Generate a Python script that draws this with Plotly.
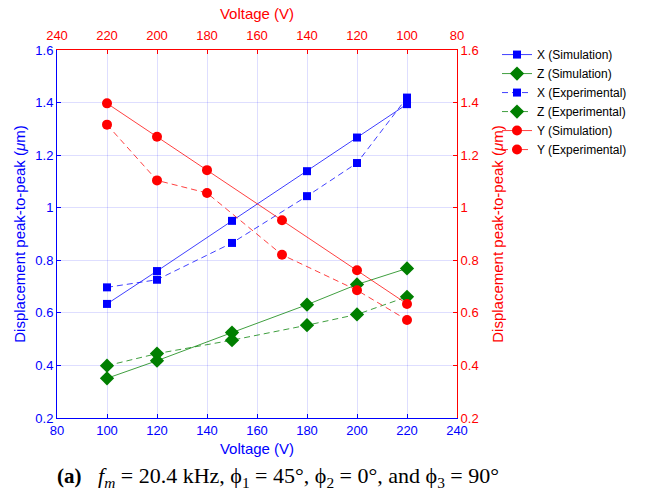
import plotly.graph_objects as go

# Data
volt_xz = [100, 120, 150, 180, 200, 220]
x_sim = [0.634, 0.759, 0.950, 1.139, 1.267, 1.394]
x_exp = [0.697, 0.726, 0.866, 1.044, 1.170, 1.419]
z_sim = [0.351, 0.418, 0.525, 0.631, 0.708, 0.769]
z_exp = [0.399, 0.445, 0.496, 0.553, 0.594, 0.661]
volt_y = [220, 200, 180, 150, 120, 100]
y_sim = [1.397, 1.270, 1.143, 0.952, 0.762, 0.634]
y_exp = [1.316, 1.104, 1.056, 0.821, 0.686, 0.573]

x_ticks = [80, 100, 120, 140, 160, 180, 200, 220, 240]
y_ticks = [0.2, 0.4, 0.6, 0.8, 1.0, 1.2, 1.4, 1.6]
y_ticktext = ["0.2", "0.4", "0.6", "0.8", "1", "1.2", "1.4", "1.6"]

BLUE = "#0000ff"
GREEN = "#007f00"
RED = "#ff0000"
BLUE_L = "rgba(0,0,255,0.75)"
GREEN_L = "rgba(0,127,0,0.75)"
RED_L = "rgba(255,0,0,0.75)"
DASH = "6px,4px"

fig = go.Figure()
fig.add_trace(go.Scatter(x=volt_xz, y=x_sim, name="X (Simulation)", mode="lines+markers",
                         line=dict(color=BLUE_L, width=1), marker=dict(symbol="square", size=8, color=BLUE),
                         xaxis="x", yaxis="y"))
fig.add_trace(go.Scatter(x=volt_xz, y=z_sim, name="Z (Simulation)", mode="lines+markers",
                         line=dict(color=GREEN_L, width=1), marker=dict(symbol="diamond", size=11, color=GREEN),
                         xaxis="x", yaxis="y"))
fig.add_trace(go.Scatter(x=volt_xz, y=x_exp, name="X (Experimental)", mode="lines+markers",
                         line=dict(color=BLUE_L, width=1, dash=DASH), marker=dict(symbol="square", size=8, color=BLUE),
                         xaxis="x", yaxis="y"))
fig.add_trace(go.Scatter(x=volt_xz, y=z_exp, name="Z (Experimental)", mode="lines+markers",
                         line=dict(color=GREEN_L, width=1, dash=DASH), marker=dict(symbol="diamond", size=11, color=GREEN),
                         xaxis="x", yaxis="y"))
fig.add_trace(go.Scatter(x=volt_y, y=y_sim, name="Y (Simulation)", mode="lines+markers",
                         line=dict(color=RED_L, width=1), marker=dict(symbol="circle", size=10, color=RED),
                         xaxis="x2", yaxis="y2"))
fig.add_trace(go.Scatter(x=volt_y, y=y_exp, name="Y (Experimental)", mode="lines+markers",
                         line=dict(color=RED_L, width=1, dash=DASH), marker=dict(symbol="circle", size=10, color=RED),
                         xaxis="x2", yaxis="y2"))

FONT = "Arial, Liberation Sans"
tickfont_b = dict(family=FONT, size=13, color=BLUE)
tickfont_r = dict(family=FONT, size=13, color=RED)
grid = "rgba(0,0,255,0.13)"

fig.update_layout(
    width=646, height=501,
    margin=dict(l=57, r=189, t=50, b=83),
    paper_bgcolor="white", plot_bgcolor="white",
    font=dict(family=FONT, size=13),
    xaxis=dict(range=[80, 240], tickvals=x_ticks, ticks="inside", ticklen=4, tickcolor=BLUE,
               showline=True, linecolor=BLUE, linewidth=1, showgrid=True, gridcolor=grid, gridwidth=1,
               zeroline=False, tickfont=tickfont_b, automargin=False,
               title=dict(text="Voltage (V)", font=dict(size=15, color=BLUE), standoff=6)),
    xaxis2=dict(range=[240, 80], tickvals=x_ticks, ticks="inside", ticklen=4, tickcolor=RED,
                overlaying="x", side="top", anchor="y2", ticklabelstandoff=4,
                showline=True, linecolor=RED, linewidth=1, showgrid=False, zeroline=False, tickfont=tickfont_r,
                automargin=False,
                title=dict(text="Voltage (V)", font=dict(size=15, color=RED), standoff=4)),
    yaxis=dict(range=[0.2, 1.6], tickvals=y_ticks, ticktext=y_ticktext, ticks="inside", ticklen=4,
               tickcolor=BLUE, showline=True, linecolor=BLUE, linewidth=1, showgrid=True,
               gridcolor=grid, gridwidth=1, zeroline=False, tickfont=tickfont_b, automargin=False,
               title=dict(text="Displacement peak-to-peak (<i>μ</i>m)", font=dict(size=15, color=BLUE), standoff=6)),
    yaxis2=dict(range=[0.2, 1.6], tickvals=y_ticks, ticktext=y_ticktext, ticks="inside", ticklen=4,
                tickcolor=RED, overlaying="y", side="right", anchor="x",
                showline=True, linecolor=RED, linewidth=1, showgrid=False, zeroline=False, tickfont=tickfont_r,
                automargin=False,
                title=dict(text="Displacement peak-to-peak (<i>μ</i>m)", font=dict(size=15, color=RED), standoff=14)),
    legend=dict(x=1.1, y=1.027, xanchor="left", yanchor="top", bgcolor="rgba(0,0,0,0)",
                font=dict(family=FONT, size=12, color="black"),
                tracegroupgap=0, itemwidth=30),
    showlegend=True,
)

fig.add_annotation(
    text="<b><span style='font-size:21px'>(a)</span></b>&nbsp;&nbsp;&nbsp;<i>f<sub>m</sub></i> = 20.4 kHz, ϕ<sub>1</sub> = 45°, ϕ<sub>2</sub> = 0°, and ϕ<sub>3</sub> = 90°",
    xref="paper", yref="paper", x=-0.005, y=-0.16, xanchor="left", yanchor="middle",
    showarrow=False, font=dict(family="Liberation Serif, Times New Roman", size=22, color="black"),
)

fig.write_html("out.html")
